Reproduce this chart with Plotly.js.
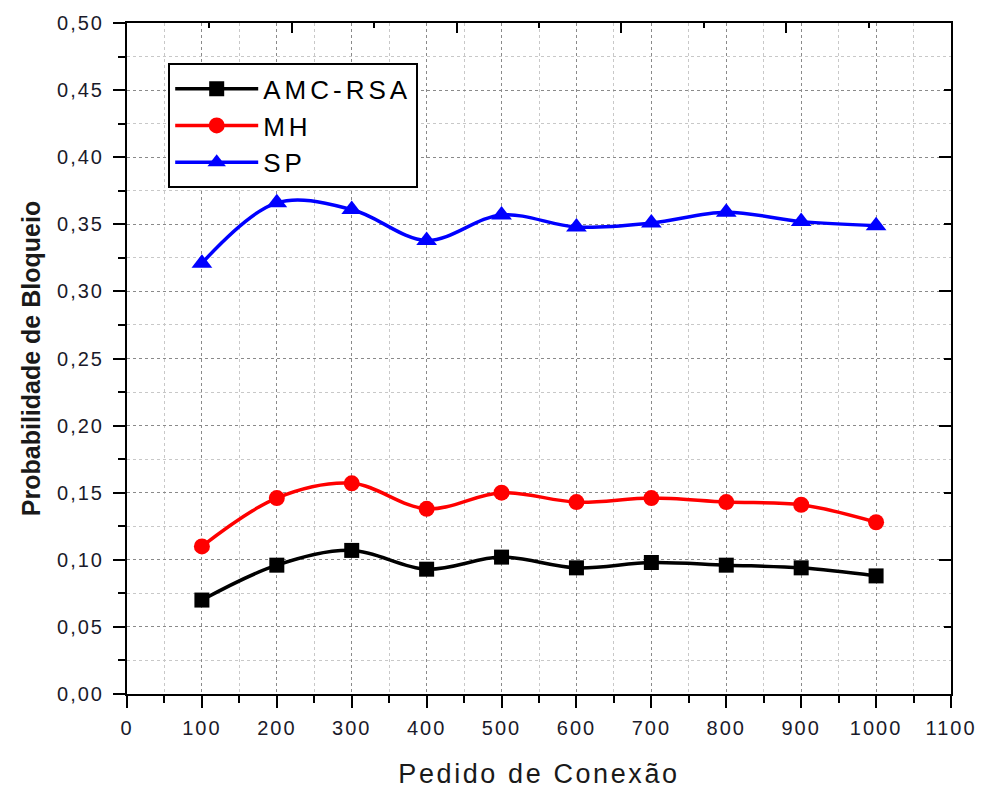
<!DOCTYPE html>
<html>
<head>
<meta charset="utf-8">
<script src="https://cdn.plot.ly/plotly-3.0.1.min.js"></script>
<style>
html,body{margin:0;padding:0;background:#fff;}
#chart{width:982px;height:789px;}
.legendtext{letter-spacing:4px;}
g.xtick text, g.ytick text, text.xtick, text.ytick{letter-spacing:2px;}
.xtitle{letter-spacing:2.6px;}
</style>
</head>
<body>
<div id="chart"></div>
<script>
const pedidos = [100, 200, 300, 400, 500, 600, 700, 800, 900, 1000];
const amcRsa = [0.070, 0.096, 0.107, 0.093, 0.102, 0.094, 0.098, 0.096, 0.094, 0.088];
const mh     = [0.110, 0.146, 0.157, 0.138, 0.150, 0.143, 0.146, 0.143, 0.141, 0.128];
const sp     = [0.321, 0.366, 0.361, 0.338, 0.357, 0.348, 0.351, 0.359, 0.352, 0.349];
const seriesNames = ['AMC-RSA', 'MH', 'SP'];

const FONT = 'Liberation Sans, Arial, sans-serif';

function mk(name, y, color, symbol, size) {
  return {
    x: pedidos, y: y, name: name, type: 'scatter', mode: 'lines+markers',
    line: {color: color, width: 3.5, shape: 'spline', smoothing: 1},
    marker: {color: color, symbol: symbol, size: size}
  };
}

const data = [
  mk(seriesNames[0], amcRsa, '#000000', 'square', 15),
  mk(seriesNames[1], mh, '#ff0000', 'circle', 16),
  mk(seriesNames[2], sp, '#0000ff', 'triangle-up', 18),
  // invisible helper so the top/right frame axes are drawn with their own ticks
  {x: pedidos, y: sp, xaxis: 'x2', yaxis: 'y2', type: 'scatter', mode: 'markers',
   marker: {opacity: 0}, showlegend: false, hoverinfo: 'skip'}
];

const layout = {
  width: 982, height: 789,
  margin: {l: 127, r: 31, t: 23, b: 95},
  paper_bgcolor: '#ffffff', plot_bgcolor: '#ffffff',
  separators: ',.',
  font: {family: FONT, color: '#1a1a1a'},
  showlegend: true,
  legend: {
    x: 0.05, y: 0.94, xanchor: 'left', yanchor: 'top',
    bordercolor: '#000', borderwidth: 2, bgcolor: '#fff',
    font: {family: FONT, size: 26, color: '#000'},
    itemwidth: 83, tracegroupgap: 0
  },
  xaxis: {
    range: [0, 1100], dtick: 100, tick0: 0,
    showline: true, linecolor: '#000', linewidth: 2,
    ticks: 'outside', ticklen: 12, tickwidth: 2, tickcolor: '#000',
    tickfont: {family: FONT, size: 20, color: '#1a1a2a'},
    ticklabelstandoff: 3,
    showgrid: true, gridcolor: '#8a8a8a', gridwidth: 1, griddash: 'dot',
    zeroline: false,
    minor: {dtick: 50, ticks: 'outside', ticklen: 7, tickwidth: 2, tickcolor: '#000',
            showgrid: true, gridcolor: '#c8c8c8', gridwidth: 1, griddash: 'dot'},
    title: {text: 'Pedido de Conexão', font: {family: FONT, size: 27, color: '#1a1a1a'}, standoff: 26}
  },
  yaxis: {
    range: [0, 0.5], dtick: 0.05, tick0: 0, tickformat: '.2f',
    showline: true, linecolor: '#000', linewidth: 2,
    ticks: 'outside', ticklen: 12, tickwidth: 2, tickcolor: '#000',
    tickfont: {family: FONT, size: 20, color: '#1a1a2a'},
    ticklabelstandoff: 5,
    showgrid: true, gridcolor: '#8a8a8a', gridwidth: 1, griddash: 'dot',
    zeroline: false,
    minor: {dtick: 0.025, ticks: 'outside', ticklen: 7, tickwidth: 2, tickcolor: '#000',
            showgrid: true, gridcolor: '#c8c8c8', gridwidth: 1, griddash: 'dot'},
    title: {text: '<b>Probabilidade de Bloqueio</b>', font: {family: FONT, size: 25, color: '#1a1a1a'}, standoff: 9}
  },
  xaxis2: {
    overlaying: 'x', side: 'top', anchor: 'y2', range: [0, 1100], dtick: 220, tick0: 0,
    showline: true, linecolor: '#000', linewidth: 2,
    ticks: 'inside', ticklen: 10, tickwidth: 2, tickcolor: '#000',
    showticklabels: false, showgrid: false, zeroline: false,
    minor: {dtick: 110, ticks: 'inside', ticklen: 5, tickwidth: 2, tickcolor: '#000', showgrid: false}
  },
  yaxis2: {
    overlaying: 'y', side: 'right', anchor: 'x2', range: [0, 0.5], dtick: 0.1, tick0: 0,
    showline: true, linecolor: '#000', linewidth: 2,
    ticks: 'inside', ticklen: 12, tickwidth: 2, tickcolor: '#000',
    showticklabels: false, showgrid: false, zeroline: false,
    minor: {dtick: 0.05, ticks: 'inside', ticklen: 7, tickwidth: 2, tickcolor: '#000', showgrid: false}
  }
};

Plotly.newPlot('chart', data, layout, {displayModeBar: false, staticPlot: true});
</script>
</body>
</html>
